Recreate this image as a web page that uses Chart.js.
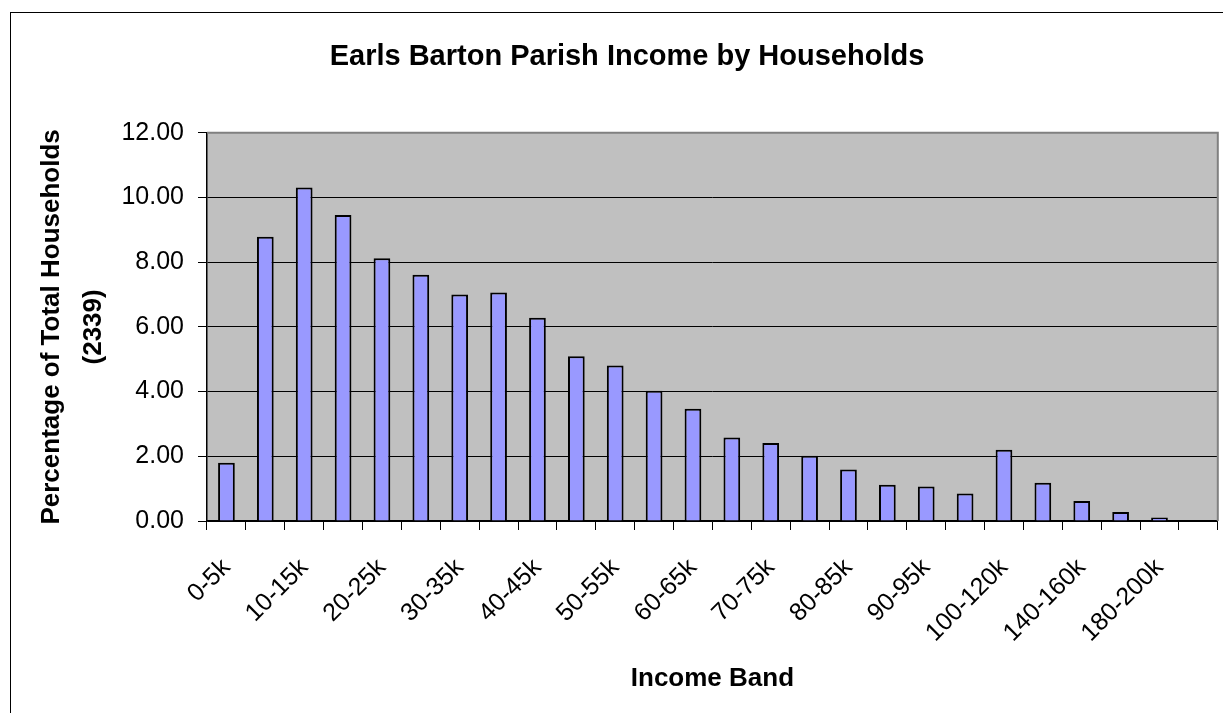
<!DOCTYPE html>
<html lang="en">
<head>
    <meta charset="UTF-8">
    <title>Earls Barton Parish Income by Households</title>
    <script src="https://cdn.jsdelivr.net/npm/chart.js"></script>
    <style>
        body {
            margin: 0;
            padding: 0;
            background: #fff;
            overflow: hidden;
        }

        .chart-box {
            position: absolute;
            left: 10px;
            top: 12px;
            width: 1232px;
            height: 700px;
            border-left: 1px solid #000;
            border-top: 1px solid #000;
        }
    </style>
</head>
<body>
    <div class="chart-box">
        <canvas id="incomeChart"></canvas>
    </div>

    <script>
        // Income bands and share of households (%) in each
        const bands = [
            "0-5k", "5-10k", "10-15k", "15-20k", "20-25k", "25-30k", "30-35k",
            "35-40k", "40-45k", "45-50k", "50-55k", "55-60k", "60-65k", "65-70k",
            "70-75k", "75-80k", "80-85k", "85-90k", "90-95k", "95-100k",
            "100-120k", "120-140k", "140-160k", "160-180k", "180-200k", "200k+"
        ];
        const householdPct = [
            1.80, 8.79, 10.31, 9.46, 8.12, 7.61, 7.00, 7.06, 6.28, 5.09,
            4.81, 4.03, 3.47, 2.58, 2.41, 2.02, 1.59, 1.12, 1.07, 0.85,
            2.20, 1.18, 0.62, 0.28, 0.11, null
        ];
        const yTicks = [0, 2, 4, 6, 8, 10, 12];

        const FONT = "'Liberation Sans', Arial, sans-serif";

        // grey plot area with a grey frame on top and right
        const plotArea = {
            id: "plotArea",
            beforeDraw(chart) {
                const { ctx, chartArea: a } = chart;
                ctx.save();
                ctx.fillStyle = "#c0c0c0";
                ctx.fillRect(a.left, a.top, a.right - a.left, a.bottom - a.top);
                ctx.restore();
            },
            afterDraw(chart) {
                const { ctx, chartArea: a } = chart;
                ctx.save();
                ctx.strokeStyle = "#808080";
                ctx.lineWidth = 2;
                ctx.beginPath();
                ctx.moveTo(a.left, a.top);
                ctx.lineTo(a.right, a.top);
                ctx.lineTo(a.right, a.bottom);
                ctx.stroke();
                ctx.restore();
            }
        };

        new Chart(document.getElementById("incomeChart"), {
            type: "bar",
            data: {
                labels: bands,
                datasets: [{
                    label: "Households",
                    data: householdPct,
                    backgroundColor: "#9999ff",
                    borderColor: "#000",
                    borderWidth: 2,
                    barPercentage: 0.43,
                    categoryPercentage: 1.0
                }]
            },
            options: {
                responsive: true,
                maintainAspectRatio: false,
                animation: false,
                layout: { padding: 0 },
                plugins: {
                    legend: { display: false },
                    tooltip: { enabled: false },
                    title: {
                        display: true,
                        text: "Earls Barton Parish Income by Households",
                        color: "#000",
                        font: { family: FONT, size: 29, weight: "bold", lineHeight: 1.2 },
                        padding: { top: 27, bottom: 58 }
                    }
                },
                scales: {
                    x: {
                        afterFit(scale) { scale.height = 192; },
                        grid: {
                            offset: true,
                            drawOnChartArea: false,
                            drawTicks: true,
                            tickLength: 9,
                            color: "#000",
                            lineWidth: 1
                        },
                        border: { display: true, color: "#000", width: 1.5 },
                        ticks: {
                            autoSkip: false,
                            maxRotation: 45,
                            minRotation: 45,
                            padding: 23,
                            color: "#000",
                            font: { family: FONT, size: 25 },
                            callback(value, index) {
                                return index % 2 === 0 ? bands[index] : "";
                            }
                        },
                        title: {
                            display: true,
                            text: "Income Band",
                            color: "#000",
                            font: { family: FONT, size: 26, weight: "bold", lineHeight: 1.2 },
                            padding: { top: 0, bottom: 19 }
                        }
                    },
                    y: {
                        min: yTicks[0],
                        max: yTicks[yTicks.length - 1],
                        afterFit(scale) { scale.width = 196; },
                        afterBuildTicks(scale) {
                            scale.ticks = yTicks.map(v => ({ value: v }));
                        },
                        grid: {
                            drawTicks: true,
                            tickLength: 9,
                            color: "#000",
                            lineWidth: 1
                        },
                        border: { display: true, color: "#000", width: 1.5 },
                        ticks: {
                            padding: 14,
                            color: "#000",
                            font: { family: FONT, size: 25 },
                            callback(value) { return Number(value).toFixed(2); }
                        },
                        title: {
                            display: true,
                            text: ["Percentage of Total Households", "(2339)"],
                            color: "#000",
                            font: { family: FONT, size: 26, weight: "bold", lineHeight: 1.6 },
                            padding: { top: 20, bottom: 0 }
                        }
                    },
                    // empty strip on the right so the title stays centred on the whole box
                    yRight: {
                        position: "right",
                        afterFit(scale) { scale.width = 22; },
                        grid: { display: false },
                        border: { display: false },
                        ticks: { display: false }
                    }
                }
            },
            plugins: [plotArea]
        });
    </script>
</body>
</html>
